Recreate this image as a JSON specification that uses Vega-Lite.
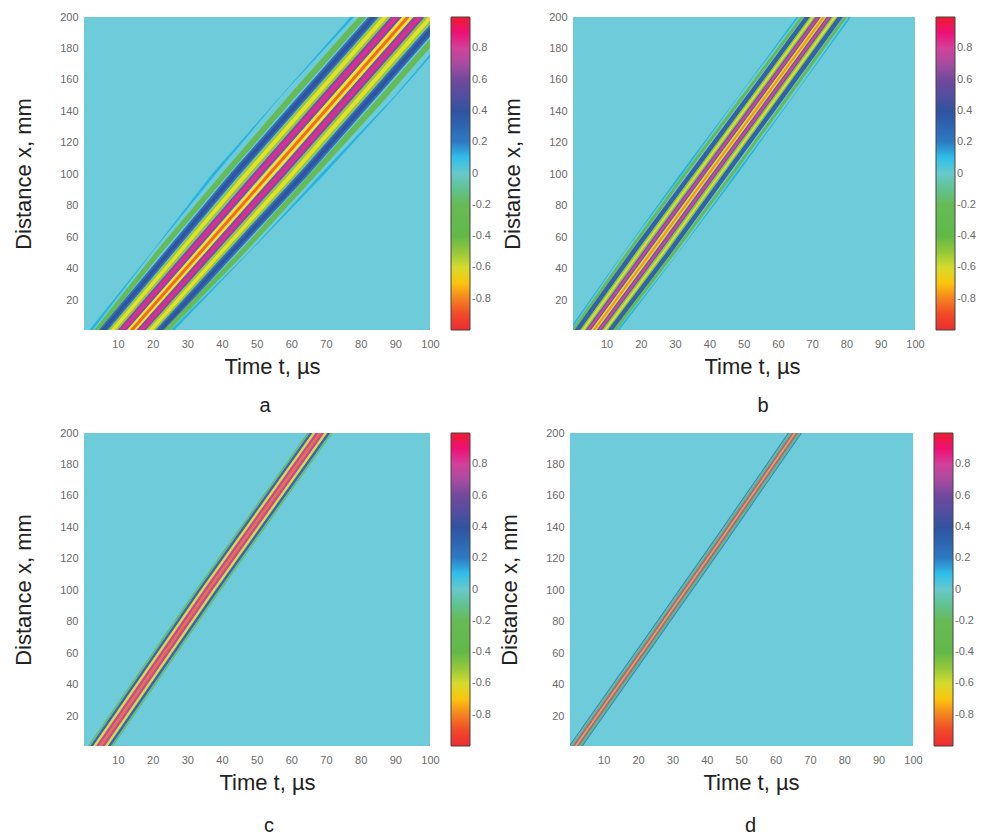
{"$schema":"https://vega.github.io/schema/vega-lite/v6.json","padding":{"left":12,"top":11,"right":0,"bottom":0},"background":"white",
"config":{"font":"Liberation Sans","view":{"fill":"#6ecbd9","stroke":null},"axis":{"grid":false,"domain":false,"ticks":false,"labelFlush":false,"labelColor":"#6a6a6a","labelFontSize":11,"labelPadding":6,"titleFontSize":22,"titleFontWeight":"normal","titleColor":"#222222"},"axisX":{"titlePadding":7,"labelPadding":8},"axisY":{"titlePadding":24},"title":{"fontSize":20,"fontWeight":"normal","color":"#222222"},"legend":{"gradientLength":313,"gradientThickness":19,"gradientOpacity":1,"gradientStrokeColor":"#444444","gradientStrokeWidth":1,"labelColor":"#6a6a6a","labelFontSize":11,"labelOverlap":false,"offset":21,"padding":0}},
"datasets":{
"a":[
{"s":"-5","x":-5,"t":0.1,"w":3,"v":0.12},{"s":"-5","x":50,"t":19.6,"w":0.5,"v":0.12},{"s":"-5","x":100,"t":37.6,"w":3,"v":0.12},{"s":"-5","x":150,"t":57.1,"w":0.5,"v":0.12},{"s":"-5","x":206,"t":80,"w":3,"v":0.12},
{"s":"-4","x":-5,"t":1.8,"w":4.5,"v":-0.3},{"s":"-4","x":50,"t":21.6,"w":5,"v":-0.3},{"s":"-4","x":100,"t":40.8,"w":5.5,"v":-0.3},{"s":"-4","x":150,"t":60.4,"w":6,"v":-0.3},{"s":"-4","x":206,"t":83,"w":6,"v":-0.3},
{"s":"-3o","x":-5,"t":3.5,"w":7,"v":0.28},{"s":"-3o","x":50,"t":24.6,"w":7.5,"v":0.28},{"s":"-3o","x":100,"t":43.7,"w":8,"v":0.28},{"s":"-3o","x":150,"t":63.7,"w":8,"v":0.28},{"s":"-3o","x":206,"t":86.1,"w":8,"v":0.28},
{"s":"-3n","x":-5,"t":3.5,"w":3.5,"v":0.4},{"s":"-3n","x":50,"t":24.6,"w":3.5,"v":0.4},{"s":"-3n","x":100,"t":43.7,"w":4,"v":0.4},{"s":"-3n","x":150,"t":63.7,"w":4,"v":0.4},{"s":"-3n","x":206,"t":86.1,"w":4,"v":0.4},
{"s":"-2o","x":-5,"t":6.2,"w":7,"v":-0.5},{"s":"-2o","x":50,"t":27.6,"w":7.5,"v":-0.5},{"s":"-2o","x":100,"t":47,"w":8,"v":-0.5},{"s":"-2o","x":150,"t":67,"w":8.5,"v":-0.5},{"s":"-2o","x":206,"t":89.4,"w":8.5,"v":-0.5},
{"s":"-2n","x":-5,"t":6.2,"w":3.5,"v":-0.63},{"s":"-2n","x":50,"t":27.6,"w":3.5,"v":-0.63},{"s":"-2n","x":100,"t":47,"w":4,"v":-0.63},{"s":"-2n","x":150,"t":67,"w":4,"v":-0.63},{"s":"-2n","x":206,"t":89.4,"w":4,"v":-0.63},
{"s":"-1o","x":-5,"t":8.9,"w":7,"v":0.62},{"s":"-1o","x":50,"t":30.6,"w":7.5,"v":0.62},{"s":"-1o","x":100,"t":50.3,"w":8,"v":0.62},{"s":"-1o","x":150,"t":70.3,"w":8.5,"v":0.62},{"s":"-1o","x":206,"t":92.7,"w":8.5,"v":0.62},
{"s":"-1n","x":-5,"t":8.9,"w":3.5,"v":0.85},{"s":"-1n","x":50,"t":30.6,"w":3.5,"v":0.85},{"s":"-1n","x":100,"t":50.3,"w":4,"v":0.85},{"s":"-1n","x":150,"t":70.3,"w":4,"v":0.85},{"s":"-1n","x":206,"t":92.7,"w":4,"v":0.85},
{"s":"0o","x":-5,"t":11.6,"w":7,"v":-0.65},{"s":"0o","x":50,"t":33.6,"w":7.5,"v":-0.65},{"s":"0o","x":100,"t":53.6,"w":8,"v":-0.65},{"s":"0o","x":150,"t":73.6,"w":8.5,"v":-0.65},{"s":"0o","x":206,"t":96,"w":8.5,"v":-0.65},
{"s":"0n","x":-5,"t":11.6,"w":3,"v":-0.86},{"s":"0n","x":50,"t":33.6,"w":3,"v":-0.86},{"s":"0n","x":100,"t":53.6,"w":3,"v":-0.86},{"s":"0n","x":150,"t":73.6,"w":3,"v":-0.86},{"s":"0n","x":206,"t":96,"w":3,"v":-0.86},
{"s":"1o","x":-5,"t":14.3,"w":7,"v":0.62},{"s":"1o","x":50,"t":36.6,"w":7.5,"v":0.62},{"s":"1o","x":100,"t":56.9,"w":8,"v":0.62},{"s":"1o","x":150,"t":76.9,"w":8.5,"v":0.62},{"s":"1o","x":206,"t":99.3,"w":8.5,"v":0.62},
{"s":"1n","x":-5,"t":14.3,"w":3.5,"v":0.85},{"s":"1n","x":50,"t":36.6,"w":3.5,"v":0.85},{"s":"1n","x":100,"t":56.9,"w":4,"v":0.85},{"s":"1n","x":150,"t":76.9,"w":4,"v":0.85},{"s":"1n","x":206,"t":99.3,"w":4,"v":0.85},
{"s":"2o","x":-5,"t":17,"w":7,"v":-0.5},{"s":"2o","x":50,"t":39.6,"w":7.5,"v":-0.5},{"s":"2o","x":100,"t":60.2,"w":8,"v":-0.5},{"s":"2o","x":150,"t":80.2,"w":8.5,"v":-0.5},{"s":"2o","x":206,"t":102.6,"w":8.5,"v":-0.5},
{"s":"2n","x":-5,"t":17,"w":3.5,"v":-0.63},{"s":"2n","x":50,"t":39.6,"w":3.5,"v":-0.63},{"s":"2n","x":100,"t":60.2,"w":4,"v":-0.63},{"s":"2n","x":150,"t":80.2,"w":4,"v":-0.63},{"s":"2n","x":206,"t":102.6,"w":4,"v":-0.63},
{"s":"3o","x":-5,"t":19.7,"w":7,"v":0.28},{"s":"3o","x":50,"t":42.6,"w":7.5,"v":0.28},{"s":"3o","x":100,"t":63.5,"w":8,"v":0.28},{"s":"3o","x":150,"t":83.5,"w":8,"v":0.28},{"s":"3o","x":206,"t":105.9,"w":8,"v":0.28},
{"s":"3n","x":-5,"t":19.7,"w":3.5,"v":0.4},{"s":"3n","x":50,"t":42.6,"w":3.5,"v":0.4},{"s":"3n","x":100,"t":63.5,"w":4,"v":0.4},{"s":"3n","x":150,"t":83.5,"w":4,"v":0.4},{"s":"3n","x":206,"t":105.9,"w":4,"v":0.4},
{"s":"4","x":-5,"t":21.4,"w":4.5,"v":-0.3},{"s":"4","x":50,"t":45.6,"w":5,"v":-0.3},{"s":"4","x":100,"t":66.3,"w":5.5,"v":-0.3},{"s":"4","x":150,"t":86.8,"w":6,"v":-0.3},{"s":"4","x":206,"t":109,"w":6,"v":-0.3},
{"s":"5","x":-5,"t":23.1,"w":3,"v":0.12},{"s":"5","x":50,"t":47.6,"w":0.5,"v":0.12},{"s":"5","x":100,"t":69,"w":3,"v":0.12},{"s":"5","x":150,"t":90.1,"w":1,"v":0.12},{"s":"5","x":206,"t":112,"w":3,"v":0.12}
],
"b":[
{"s":"-5","x":-5,"t":-2.7,"w":2,"v":0.12},{"s":"-5","x":50,"t":14.9,"w":0.3,"v":0.12},{"s":"-5","x":100,"t":31.7,"w":2,"v":0.12},{"s":"-5","x":150,"t":48.6,"w":0.3,"v":0.12},{"s":"-5","x":206,"t":67.8,"w":2,"v":0.12},
{"s":"-4","x":-5,"t":-1.7,"w":3,"v":-0.3},{"s":"-4","x":50,"t":16.2,"w":3,"v":-0.3},{"s":"-4","x":100,"t":32.8,"w":3,"v":-0.3},{"s":"-4","x":150,"t":50,"w":3,"v":-0.3},{"s":"-4","x":206,"t":69.1,"w":3,"v":-0.3},
{"s":"-3","x":-5,"t":-0.5,"w":4.5,"v":0.35},{"s":"-3","x":50,"t":17.65,"w":4.5,"v":0.35},{"s":"-3","x":100,"t":34.6,"w":4.5,"v":0.35},{"s":"-3","x":150,"t":51.65,"w":4.5,"v":0.35},{"s":"-3","x":206,"t":70.6,"w":4.5,"v":0.35},
{"s":"-2o","x":-5,"t":1.1,"w":4.5,"v":-0.48},{"s":"-2o","x":50,"t":19.4,"w":4.5,"v":-0.48},{"s":"-2o","x":100,"t":36.3,"w":4.5,"v":-0.48},{"s":"-2o","x":150,"t":53.3,"w":4.5,"v":-0.48},{"s":"-2o","x":206,"t":72.2,"w":4.5,"v":-0.48},
{"s":"-2n","x":-5,"t":1.1,"w":2,"v":-0.62},{"s":"-2n","x":50,"t":19.4,"w":2,"v":-0.62},{"s":"-2n","x":100,"t":36.3,"w":2,"v":-0.62},{"s":"-2n","x":150,"t":53.3,"w":2,"v":-0.62},{"s":"-2n","x":206,"t":72.2,"w":2,"v":-0.62},
{"s":"-1o","x":-5,"t":2.7,"w":4.5,"v":0.62},{"s":"-1o","x":50,"t":21.15,"w":4.5,"v":0.62},{"s":"-1o","x":100,"t":38,"w":4.5,"v":0.62},{"s":"-1o","x":150,"t":54.95,"w":4.5,"v":0.62},{"s":"-1o","x":206,"t":73.8,"w":4.5,"v":0.62},
{"s":"-1n","x":-5,"t":2.7,"w":2,"v":0.78},{"s":"-1n","x":50,"t":21.15,"w":2,"v":0.78},{"s":"-1n","x":100,"t":38,"w":2,"v":0.78},{"s":"-1n","x":150,"t":54.95,"w":2,"v":0.78},{"s":"-1n","x":206,"t":73.8,"w":2,"v":0.78},
{"s":"0o","x":-5,"t":4.3,"w":4.5,"v":-0.62},{"s":"0o","x":50,"t":22.9,"w":4.5,"v":-0.62},{"s":"0o","x":100,"t":39.7,"w":4.5,"v":-0.62},{"s":"0o","x":150,"t":56.6,"w":4.5,"v":-0.62},{"s":"0o","x":206,"t":75.4,"w":4.5,"v":-0.62},
{"s":"0n","x":-5,"t":4.3,"w":2,"v":-0.78},{"s":"0n","x":50,"t":22.9,"w":2,"v":-0.78},{"s":"0n","x":100,"t":39.7,"w":2,"v":-0.78},{"s":"0n","x":150,"t":56.6,"w":2,"v":-0.78},{"s":"0n","x":206,"t":75.4,"w":2,"v":-0.78},
{"s":"1o","x":-5,"t":5.9,"w":4.5,"v":0.62},{"s":"1o","x":50,"t":24.65,"w":4.5,"v":0.62},{"s":"1o","x":100,"t":41.4,"w":4.5,"v":0.62},{"s":"1o","x":150,"t":58.25,"w":4.5,"v":0.62},{"s":"1o","x":206,"t":77,"w":4.5,"v":0.62},
{"s":"1n","x":-5,"t":5.9,"w":2,"v":0.78},{"s":"1n","x":50,"t":24.65,"w":2,"v":0.78},{"s":"1n","x":100,"t":41.4,"w":2,"v":0.78},{"s":"1n","x":150,"t":58.25,"w":2,"v":0.78},{"s":"1n","x":206,"t":77,"w":2,"v":0.78},
{"s":"2o","x":-5,"t":7.5,"w":4.5,"v":-0.48},{"s":"2o","x":50,"t":26.4,"w":4.5,"v":-0.48},{"s":"2o","x":100,"t":43.1,"w":4.5,"v":-0.48},{"s":"2o","x":150,"t":59.9,"w":4.5,"v":-0.48},{"s":"2o","x":206,"t":78.6,"w":4.5,"v":-0.48},
{"s":"2n","x":-5,"t":7.5,"w":2,"v":-0.62},{"s":"2n","x":50,"t":26.4,"w":2,"v":-0.62},{"s":"2n","x":100,"t":43.1,"w":2,"v":-0.62},{"s":"2n","x":150,"t":59.9,"w":2,"v":-0.62},{"s":"2n","x":206,"t":78.6,"w":2,"v":-0.62},
{"s":"3","x":-5,"t":9.1,"w":4.5,"v":0.35},{"s":"3","x":50,"t":28.15,"w":4.5,"v":0.35},{"s":"3","x":100,"t":44.8,"w":4.5,"v":0.35},{"s":"3","x":150,"t":61.55,"w":4.5,"v":0.35},{"s":"3","x":206,"t":80.2,"w":4.5,"v":0.35},
{"s":"4","x":-5,"t":10.3,"w":3,"v":-0.3},{"s":"4","x":50,"t":29.6,"w":3,"v":-0.3},{"s":"4","x":100,"t":46.6,"w":3,"v":-0.3},{"s":"4","x":150,"t":63.2,"w":3,"v":-0.3},{"s":"4","x":206,"t":81.7,"w":3,"v":-0.3},
{"s":"5","x":-5,"t":11.3,"w":2,"v":0.12},{"s":"5","x":50,"t":30.9,"w":0.3,"v":0.12},{"s":"5","x":100,"t":47.8,"w":2,"v":0.12},{"s":"5","x":150,"t":64.6,"w":0.5,"v":0.12},{"s":"5","x":206,"t":83,"w":2,"v":0.12}
],
"c":[
{"s":"-4","x":-5,"t":-0.3,"w":1.5,"v":-0.2},{"s":"-4","x":100,"t":32.6,"w":1.5,"v":-0.2},{"s":"-4","x":206,"t":66.8,"w":1.5,"v":-0.2},
{"s":"-3","x":-5,"t":0.55,"w":2.5,"v":0.42},{"s":"-3","x":100,"t":33.45,"w":2.5,"v":0.42},{"s":"-3","x":206,"t":67.65,"w":2.5,"v":0.42},
{"s":"-2","x":-5,"t":1.4,"w":2.5,"v":-0.62},{"s":"-2","x":100,"t":34.3,"w":2.5,"v":-0.62},{"s":"-2","x":206,"t":68.5,"w":2.5,"v":-0.62},
{"s":"-1","x":-5,"t":2.25,"w":2.5,"v":0.85},{"s":"-1","x":100,"t":35.15,"w":2.5,"v":0.85},{"s":"-1","x":206,"t":69.35,"w":2.5,"v":0.85},
{"s":"0","x":-5,"t":3.1,"w":2.5,"v":-0.85},{"s":"0","x":100,"t":36,"w":2.5,"v":-0.85},{"s":"0","x":206,"t":70.2,"w":2.5,"v":-0.85},
{"s":"1","x":-5,"t":3.95,"w":2.5,"v":0.85},{"s":"1","x":100,"t":36.85,"w":2.5,"v":0.85},{"s":"1","x":206,"t":71.05,"w":2.5,"v":0.85},
{"s":"2","x":-5,"t":4.8,"w":2.5,"v":-0.62},{"s":"2","x":100,"t":37.7,"w":2.5,"v":-0.62},{"s":"2","x":206,"t":71.9,"w":2.5,"v":-0.62},
{"s":"3","x":-5,"t":5.65,"w":2.5,"v":0.42},{"s":"3","x":100,"t":38.55,"w":2.5,"v":0.42},{"s":"3","x":206,"t":72.75,"w":2.5,"v":0.42},
{"s":"4","x":-5,"t":6.5,"w":1.5,"v":-0.2},{"s":"4","x":100,"t":39.4,"w":1.5,"v":-0.2},{"s":"4","x":206,"t":73.6,"w":1.5,"v":-0.2}
],
"d":[
{"s":"-3","x":-5,"t":-1.9,"w":1.2,"v":0.2},{"s":"-3","x":60,"t":19.1,"w":1.2,"v":0.2},{"s":"-3","x":130,"t":41.6,"w":1.2,"v":0.2},{"s":"-3","x":206,"t":65.7,"w":1.2,"v":0.2},
{"s":"-2","x":-5,"t":-1.2,"w":1.8,"v":-0.35},{"s":"-2","x":60,"t":19.8,"w":1.8,"v":-0.35},{"s":"-2","x":130,"t":42.3,"w":1.8,"v":-0.35},{"s":"-2","x":206,"t":66.4,"w":1.8,"v":-0.35},
{"s":"-1","x":-5,"t":-0.6,"w":2,"v":0.72},{"s":"-1","x":60,"t":20.4,"w":2,"v":0.72},{"s":"-1","x":130,"t":42.9,"w":2,"v":0.72},{"s":"-1","x":206,"t":67,"w":2,"v":0.72},
{"s":"0","x":-5,"t":0,"w":2,"v":-0.75},{"s":"0","x":60,"t":21,"w":2,"v":-0.75},{"s":"0","x":130,"t":43.5,"w":2,"v":-0.75},{"s":"0","x":206,"t":67.6,"w":2,"v":-0.75},
{"s":"1","x":-5,"t":0.6,"w":2,"v":0.72},{"s":"1","x":60,"t":21.6,"w":2,"v":0.72},{"s":"1","x":130,"t":44.1,"w":2,"v":0.72},{"s":"1","x":206,"t":68.2,"w":2,"v":0.72},
{"s":"2","x":-5,"t":1.2,"w":1.8,"v":-0.35},{"s":"2","x":60,"t":22.2,"w":1.8,"v":-0.35},{"s":"2","x":130,"t":44.7,"w":1.8,"v":-0.35},{"s":"2","x":206,"t":68.8,"w":1.8,"v":-0.35},
{"s":"3","x":-5,"t":1.8,"w":1.2,"v":0.2},{"s":"3","x":60,"t":22.8,"w":1.2,"v":0.2},{"s":"3","x":130,"t":45.3,"w":1.2,"v":0.2},{"s":"3","x":206,"t":69.4,"w":1.2,"v":0.2}
]},
"spacing":11,"resolve":{"scale":{"color":"independent"}},
"vconcat":[
{"hconcat":[
{"data":{"name":"a"},"width":346,"height":313,"title":{"text":"a","orient":"bottom","offset":19,"dx":8},"mark":{"type":"trail","clip":true,"opacity":0.95},"encoding":{
"x":{"field":"t","type":"quantitative","title":"Time t, µs","scale":{"domain":[0.2,100],"nice":false,"zero":false},"axis":{"values":[10,20,30,40,50,60,70,80,90,100],"titleX":188}},
"y":{"field":"x","type":"quantitative","title":"Distance x, mm","scale":{"domain":[1,200],"nice":false,"zero":false},"axis":{"values":[20,40,60,80,100,120,140,160,180,200]}},
"size":{"field":"w","type":"quantitative","scale":{"domain":[0,20],"range":[0,20]},"legend":null},
"detail":{"field":"s","type":"nominal"},
"color":{"field":"v","type":"quantitative","scale":{"domain":[-1,-0.92,-0.8,-0.65,-0.55,-0.42,-0.2,-0.05,0.02,0.1,0.2,0.4,0.6,0.75,0.87,0.93,1],"range":["#ee2a30","#ee3b2c","#f58220","#f7e622","#b4cf36","#62b947","#66bb56","#6cc3a6","#6ecbd9","#2fbfea","#2d7bc4","#30529f","#71489c","#c04f9e","#ec1a8d","#ee1560","#ed1c2e"]},"legend":{"title":null,"values":[-0.8,-0.6,-0.4,-0.2,0,0.2,0.4,0.6,0.8],"labelExpr":"''+round(datum.value*10)/10"}}}},
{"data":{"name":"b"},"width":342,"height":313,"title":{"text":"b","orient":"bottom","offset":19,"dx":19},"mark":{"type":"trail","clip":true,"opacity":0.95},"encoding":{
"x":{"field":"t","type":"quantitative","title":"Time t, µs","scale":{"domain":[0.2,100],"nice":false,"zero":false},"axis":{"values":[10,20,30,40,50,60,70,80,90,100],"titleX":179}},
"y":{"field":"x","type":"quantitative","title":"Distance x, mm","scale":{"domain":[1,200],"nice":false,"zero":false},"axis":{"values":[20,40,60,80,100,120,140,160,180,200]}},
"size":{"field":"w","type":"quantitative","scale":{"domain":[0,20],"range":[0,20]},"legend":null},
"detail":{"field":"s","type":"nominal"},
"color":{"field":"v","type":"quantitative","scale":{"domain":[-1,-0.92,-0.8,-0.65,-0.55,-0.42,-0.2,-0.05,0.02,0.1,0.2,0.4,0.6,0.75,0.87,0.93,1],"range":["#ee2a30","#ee3b2c","#f58220","#f7e622","#b4cf36","#62b947","#66bb56","#6cc3a6","#6ecbd9","#2fbfea","#2d7bc4","#30529f","#71489c","#c04f9e","#ec1a8d","#ee1560","#ed1c2e"]},"legend":{"title":null,"values":[-0.8,-0.6,-0.4,-0.2,0,0.2,0.4,0.6,0.8],"labelExpr":"''+round(datum.value*10)/10"}}}}
],"spacing":10,"resolve":{"scale":{"color":"independent"}}},
{"hconcat":[
{"data":{"name":"c"},"width":346,"height":313,"title":{"text":"c","orient":"bottom","offset":23,"dx":12},"mark":{"type":"trail","clip":true,"opacity":0.85},"encoding":{
"x":{"field":"t","type":"quantitative","title":"Time t, µs","scale":{"domain":[0.2,100],"nice":false,"zero":false},"axis":{"values":[10,20,30,40,50,60,70,80,90,100],"titleX":183}},
"y":{"field":"x","type":"quantitative","title":"Distance x, mm","scale":{"domain":[1,200],"nice":false,"zero":false},"axis":{"values":[20,40,60,80,100,120,140,160,180,200]}},
"size":{"field":"w","type":"quantitative","scale":{"domain":[0,20],"range":[0,20]},"legend":null},
"detail":{"field":"s","type":"nominal"},
"color":{"field":"v","type":"quantitative","scale":{"domain":[-1,-0.92,-0.8,-0.65,-0.55,-0.42,-0.2,-0.05,0.02,0.1,0.2,0.4,0.6,0.75,0.87,0.93,1],"range":["#ee2a30","#ee3b2c","#f58220","#f7e622","#b4cf36","#62b947","#66bb56","#6cc3a6","#6ecbd9","#2fbfea","#2d7bc4","#30529f","#71489c","#c04f9e","#ec1a8d","#ee1560","#ed1c2e"]},"legend":{"title":null,"values":[-0.8,-0.6,-0.4,-0.2,0,0.2,0.4,0.6,0.8],"labelExpr":"''+round(datum.value*10)/10"}}}},
{"data":{"name":"d"},"width":343,"height":313,"title":{"text":"d","orient":"bottom","offset":23,"dx":9},"mark":{"type":"trail","clip":true,"opacity":0.85},"encoding":{
"x":{"field":"t","type":"quantitative","title":"Time t, µs","scale":{"domain":[0.2,100],"nice":false,"zero":false},"axis":{"values":[10,20,30,40,50,60,70,80,90,100],"titleX":181}},
"y":{"field":"x","type":"quantitative","title":"Distance x, mm","scale":{"domain":[1,200],"nice":false,"zero":false},"axis":{"values":[20,40,60,80,100,120,140,160,180,200]}},
"size":{"field":"w","type":"quantitative","scale":{"domain":[0,20],"range":[0,20]},"legend":null},
"detail":{"field":"s","type":"nominal"},
"color":{"field":"v","type":"quantitative","scale":{"domain":[-1,-0.92,-0.8,-0.65,-0.55,-0.42,-0.2,-0.05,0.02,0.1,0.2,0.4,0.6,0.75,0.87,0.93,1],"range":["#ee2a30","#ee3b2c","#f58220","#f7e622","#b4cf36","#62b947","#66bb56","#6cc3a6","#6ecbd9","#2fbfea","#2d7bc4","#30529f","#71489c","#c04f9e","#ec1a8d","#ee1560","#ed1c2e"]},"legend":{"title":null,"values":[-0.8,-0.6,-0.4,-0.2,0,0.2,0.4,0.6,0.8],"labelExpr":"''+round(datum.value*10)/10"}}}}
],"spacing":7,"resolve":{"scale":{"color":"independent"}}}
]}
